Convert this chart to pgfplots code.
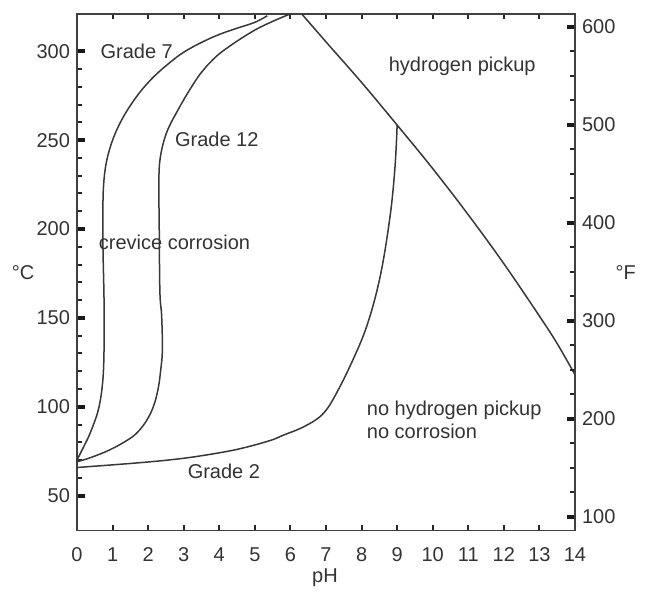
\documentclass[border=0pt]{standalone}
\usepackage{fontspec}
\setmainfont{Liberation Sans}
\usepackage{pgfplots}
\pgfplotsset{compat=1.18}
\definecolor{ln}{gray}{0.22}
\definecolor{tx}{gray}{0.2}
\begin{document}
\begin{tikzpicture}
\pgfplotsset{
  common/.style={
    at={(0,0)}, anchor=south west, scale only axis,
    width=249pt, height=258.3pt,
    xmin=0, xmax=14, clip=false,
    axis line style={draw=black!75, line width=0.9pt},
    tick align=inside,
    major tick length=3.8pt, minor tick length=2.7pt,
    tick style={draw=black!85, line width=1pt},
    every major y tick/.append style={line width=2pt, draw=black!90},
    ticklabel style={font=\fontsize{10}{12}\selectfont, text=tx},
    /pgf/number format/assume math mode=true,
  }
}
\begin{axis}[common,
  ymin=30.3, ymax=321,
  xtick={0,...,14}, minor xtick={1,2,...,13},
  every major x tick/.append style={draw=none},
  xtick pos=both, xticklabel pos=lower,
  xticklabel style={yshift=-5pt},
  ytick={50,100,...,300}, minor y tick num=4,
  ytick pos=left,
]
\addplot[ln, line width=0.75pt, smooth, tension=0.6] coordinates {
(0,70) (0.2,78) (0.37,85.2) (0.6,98.3) (0.72,113.5) (0.76,132) (0.76,160)
(0.73,190) (0.73,215) (0.76,228) (0.83,238) (0.95,247) (1.1,255) (1.3,263)
(1.55,271) (1.85,279) (2.2,286.5) (2.6,293.5) (3.0,299.5) (3.5,305)
(4.0,309.5) (4.5,313) (5.0,316.3) (5.35,320)};
\addplot[ln, line width=0.75pt, smooth, tension=0.6] coordinates {
(0,69) (0.4,71.5) (0.93,75.8) (1.4,81) (1.68,85.2) (1.95,92) (2.15,100.2)
(2.28,110) (2.35,120) (2.40,132) (2.38,151) (2.33,165) (2.31,205) (2.30,225)
(2.34,240) (2.52,254.3) (2.85,267.4) (3.18,278.7) (3.46,287.2) (3.65,291.8)
(4.11,300.3) (5.05,312.5) (5.99,321)};
\addplot[ln, line width=0.75pt, smooth, tension=0.6] coordinates {
(0,65.8) (1.58,68.2) (2.61,70.1) (3.46,72.3) (4.5,76) (5.4,80.8) (5.8,84)
(6.3,88) (6.74,93) (7.0,98) (7.25,106) (7.67,122.6) (8.14,145) (8.52,173)
(8.8,207) (8.94,235) (9.0,258.5)};
\addplot[ln, line width=0.75pt, smooth, tension=0.6] coordinates {
(6.32,321) (7,305.3) (8,282.5) (9,258.5) (10,234) (11,208) (12,180.5)
(13,151) (13.5,135.5) (14,118)};
\node[font=\fontsize{10}{11.7}\selectfont, text=tx] at (axis cs:1.68,300) {Grade 7};
\node[font=\fontsize{10}{11.7}\selectfont, text=tx] at (axis cs:3.93,250.4) {Grade 12};
\node[font=\fontsize{10}{11.7}\selectfont, text=tx] at (axis cs:2.74,192.4) {crevice corrosion};
\node[font=\fontsize{10}{11.7}\selectfont, text=tx] at (axis cs:10.83,291.4) {hydrogen pickup};
\node[font=\fontsize{10}{11.7}\selectfont, text=tx, anchor=west, align=left, inner sep=0pt] at (axis cs:8.14,92.6) {no hydrogen pickup\\no corrosion};
\node[font=\fontsize{10}{11.7}\selectfont, text=tx] at (axis cs:4.13,63.5) {Grade 2};
\node[font=\fontsize{10}{11.7}\selectfont, text=tx] at (axis description cs:-0.108,0.5) {°C};
\node[font=\fontsize{10}{11.7}\selectfont, text=tx] at (axis description cs:1.102,0.5) {°F};
\node[font=\fontsize{10}{11.7}\selectfont, text=tx] at (axis description cs:0.498,-0.0915) {pH};
\end{axis}
\begin{axis}[common,
  ymin=85.7, ymax=613,
  hide x axis, axis y line*=right,
  ytick={100,200,...,600}, minor y tick num=3,
]
\end{axis}
\path (-38.5pt,-28.2pt) rectangle (286.5pt,265.3pt);
\end{tikzpicture}
\end{document}
